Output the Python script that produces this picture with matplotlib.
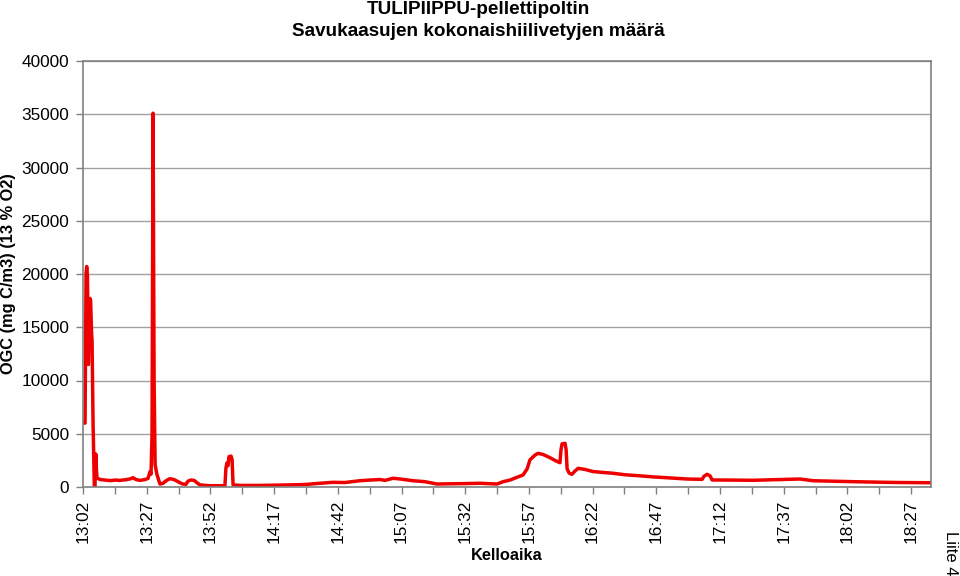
import matplotlib
matplotlib.use("Agg")
import matplotlib.pyplot as plt
import numpy as np

# Elapsed minutes since 13:02 and OGC values (mg C/m3, 13 % O2)
elapsed_min = [0, 0.8, 1.2, 1.45, 1.75, 2.1, 2.35, 2.75, 3.0, 3.35, 3.55, 3.95, 4.45, 4.7,
               5.0, 5.3, 5.5, 6.7, 8.6, 10.6, 12.6, 14.5, 16.5, 18.4, 19.6, 20.8, 22.4, 24.3,
               25.5, 26.3, 26.7, 27.1, 27.5, 27.9, 28.3, 29.0, 30.2, 31.4, 33.0, 34.1, 35.7,
               37.3, 38.9, 40.4, 41.2, 42.4, 43.6, 44.7, 45.9, 47.9, 49.8, 53.8, 55.7, 56.1,
               56.5, 56.9, 57.3, 58.1, 58.5, 58.9, 61.6, 69.5, 77.3, 85.2, 87.9, 93.0, 98.1,
               102.8, 108.7, 112.6, 116.6, 118.5, 121.7, 124.5, 129.5, 134.2, 138.9, 144.0,
               149.9, 155.8, 162.5, 164.9, 167.6, 170.3, 172.7, 174.3, 175.4, 177.4, 178.6,
               180.6, 183.3, 185.6, 187.2, 187.6, 188.0, 189.2, 189.6, 190.0, 190.8, 191.9,
               193.1, 194.3, 197.0, 200.2, 204.9, 208.0, 212.7, 218.6, 223.7, 230.4, 237.1,
               243.0, 243.7, 244.9, 246.1, 246.9, 254.0, 263.0, 273.6, 281.4, 286.5, 293.2,
               302.2, 312.8, 320.7, 332.8]
ogc = [6000, 6000, 20000, 20700, 19800, 11500, 14000, 17700, 17500, 14500, 13800, 6000, 0, 0,
       3100, 1500, 850, 700, 650, 600, 650, 620, 680, 750, 870, 700, 620, 700,
       800, 1440, 1200, 5000, 35100, 10000, 2100, 1200, 280, 350, 650, 780, 700,
       500, 300, 250, 550, 660, 620, 400, 200, 150, 120, 120, 120, 1800,
       2250, 2000, 2850, 2900, 2600, 200, 150, 150, 180, 220, 250, 350, 440,
       420, 590, 650, 700, 620, 820, 750, 590, 500, 280, 300,
       320, 350, 280, 500, 650, 910, 1130, 1700, 2540, 3000, 3160,
       3050, 2750, 2450, 2280, 3500, 4050, 4100, 3500, 1700, 1300, 1190,
       1500, 1750, 1650, 1450, 1350, 1290, 1150, 1050, 950, 850, 750,
       720, 1000, 1190, 1050, 660, 650, 630, 700, 750, 590, 550,
       500, 450, 420, 400]

tick_labels = ["13:02", "13:27", "13:52", "14:17", "14:42", "15:07", "15:32",
               "15:57", "16:22", "16:47", "17:12", "17:37", "18:02", "18:27"]
y_ticks = [0, 5000, 10000, 15000, 20000, 25000, 30000, 35000, 40000]

title_lines = ["TULIPIIPPU-pellettipoltin", "Savukaasujen kokonaishiilivetyjen määrä"]
y_label = "OGC (mg C/m3) (13 % O2)"
x_label = "Kelloaika"
corner_note = "Liite 4"

plt.rcParams['font.family'] = ['Liberation Sans', 'DejaVu Sans']

fig = plt.figure(figsize=(9.6, 5.76), dpi=100)
ax = fig.add_axes([83/960, 1 - 487/576, (931 - 83)/960, (487 - 61)/576])

ax.plot(elapsed_min, ogc, color="#ee0000", lw=2.5, solid_joinstyle="round")

grey = "#808080"
ax.set_ylim(0, 40000)
ax.set_yticks(y_ticks)
ax.set_yticklabels([str(v) for v in y_ticks], fontsize=12.4)
ax.yaxis.grid(True, color="#a0a0a0", lw=1)
ax.set_axisbelow(True)

x_end = (931 - 83) / 63.7 * 25
ax.set_xlim(0, x_end)
major = [i * 25 for i in range(len(tick_labels))]
ax.set_xticks(major)
ax.set_xticklabels(tick_labels, rotation=90, fontsize=12.4)
ax.set_xticks([m + 12.5 for m in major if m + 12.5 < x_end], minor=True)
ax.tick_params(axis="both", which="both", direction="out", color=grey, length=5, width=1)
ax.tick_params(axis="x", which="major", pad=4)
ax.tick_params(axis="y", which="major", pad=5)
for s in ax.spines.values():
    s.set_color(grey)
    s.set_linewidth(1.2)

fig.text(478/960, 1 - 10/576, title_lines[0], ha="center", va="center",
         fontsize=13.6, fontweight="bold")
fig.text(478/960, 1 - 31/576, title_lines[1], ha="center", va="center",
         fontsize=13.6, fontweight="bold")
fig.text(9/960, 1 - 274/576, y_label, rotation=90, ha="center", va="center",
         fontsize=11.8, fontweight="bold")
fig.text(507/960, 1 - 556/576, x_label, ha="center", va="center",
         fontsize=11.8, fontweight="bold")
fig.text(951/960, 1 - 553/576, corner_note, rotation=-90, ha="center", va="center",
         fontsize=12)

fig.savefig("out.png", dpi=100)
